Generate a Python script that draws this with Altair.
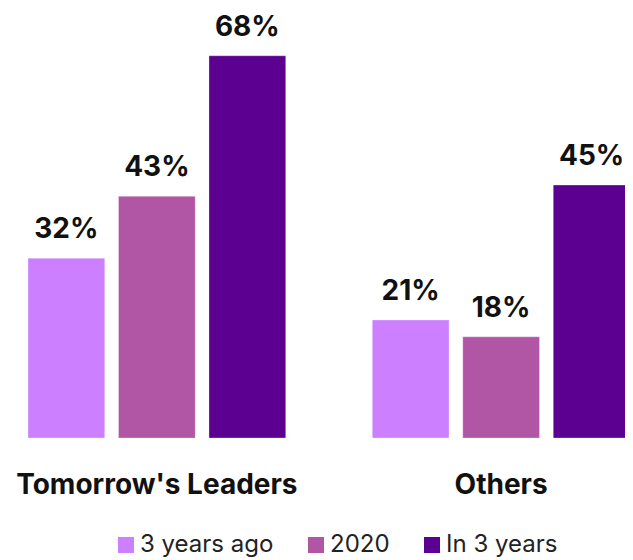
import altair as alt
import pandas as pd

groups = ["Tomorrow's Leaders", "Others"]
series = ["3 years ago", "2020", "In 3 years"]
leaders_vals = [32, 43, 68]
others_vals = [21, 18, 45]
colors = ["#CC80FF", "#B155A5", "#5C0091"]

rows = []
for g, vals in zip(groups, [leaders_vals, others_vals]):
    for s, v in zip(series, vals):
        rows.append({"group": g, "series": s, "value": v, "label": f"{v}%"})
df = pd.DataFrame(rows)

FONT = "Inter"

x = alt.X("group:N", sort=groups, title=None,
          scale=alt.Scale(range=[0, 642], paddingInner=0.2514, paddingOuter=0.0581),
          axis=alt.Axis(labelAngle=0, domain=False, ticks=False, labelFont=FONT,
                        labelFontSize=28, labelFontWeight="bold", labelColor="#111111",
                        labelPadding=33, labelLimit=0, grid=False))
xo = alt.XOffset("series:N", sort=series,
                 scale=alt.Scale(paddingInner=0.152, paddingOuter=0))
y = alt.Y("value:Q", scale=alt.Scale(domain=[0, 76.5]), axis=None)

bars = alt.Chart(df).mark_bar(stroke="#ffffff", strokeWidth=0.6, strokeOpacity=0.5).encode(
    x=x, xOffset=xo, y=y,
    color=alt.Color("series:N", sort=series,
                    scale=alt.Scale(domain=series, range=colors),
                    legend=alt.Legend(title=None, orient="none", direction="horizontal",
                                      legendX=106, legendY=525,
                                      symbolType="square", symbolSize=256,
                                      symbolStrokeWidth=0, labelFont=FONT,
                                      labelFontSize=24, labelColor="#222222",
                                      labelOffset=2, columnPadding=30)),
)

text = alt.Chart(df).mark_text(font=FONT, fontSize=28, fontWeight="bold",
                               color="#111111", baseline="bottom", dy=-14).encode(
    x=x, xOffset=xo, y=y, text="label:N")

chart = (bars + text).properties(
    width=617, height=430,
    autosize=alt.AutoSizeParams(type="none"),
    padding={"left": 0, "top": 0, "right": 0, "bottom": 122},
).configure_view(stroke=None)

chart.save("out.html", embed_options={"renderer": "svg", "actions": False})
